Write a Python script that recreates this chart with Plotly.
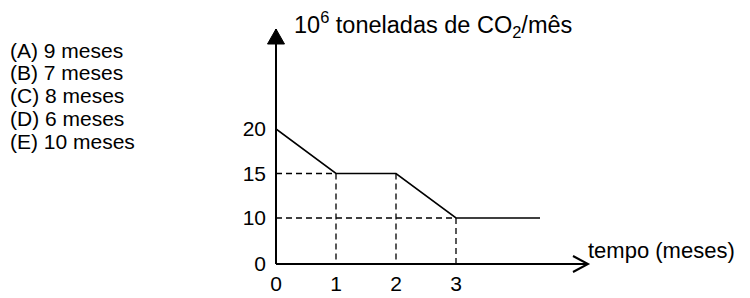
import plotly.graph_objects as go

# ---- data ----
tempo = [0, 1, 2, 3, 4.4]
emissao = [20, 15, 15, 10, 10]
x_ticks = [0, 1, 2, 3]
x_ticktext = ["0", "1", "2", "3"]
y_ticks = [10, 15, 20]
y_ticktext = ["10", "15", "20"]
guide_points_x = [1, 2, 3]
guide_points_y = [15, 15, 10]
opcoes = ["(A) 9 meses", "(B) 7 meses", "(C) 8 meses", "(D) 6 meses", "(E) 10 meses"]
y_title = "10<sup>6</sup> toneladas de CO<sub>2</sub>/mês"
x_title = "tempo (meses)"

# ---- layout geometry ----
W, H = 750, 298
L, R, T, B = 268, 152, 13, 42
PX_PER_X = 60
PX_PER_Y = 8.9
y_floor = 4.83          # schematic broken axis: visual origin
y_top = y_floor + (H - T - B) / PX_PER_Y
x_min, x_max = 0, (W - L - R) / PX_PER_X
x_arrow = 5.2
y_arrow = y_floor + 235 / PX_PER_Y
FONT = "Liberation Sans, Arial, sans-serif"
FS = 21
FS_T = 23.5
FS_X = 22

# paper positions of the arrow tips
xa_p = (x_arrow - x_min) / (x_max - x_min)
ya_p = (y_arrow - y_floor) / (y_top - y_floor)

fig = go.Figure()

dash = dict(color="black", width=1.3, dash="6px,4px")
# dashed guide lines (vertical)
for gx, gy in zip(guide_points_x, guide_points_y):
    fig.add_trace(go.Scatter(x=[gx, gx], y=[gy, y_floor], mode="lines", line=dash,
                             hoverinfo="skip", showlegend=False))
# dashed guide lines (horizontal, to first point at each level)
for gy in sorted(set(guide_points_y)):
    gx = min(x for x, y in zip(guide_points_x, guide_points_y) if y == gy)
    fig.add_trace(go.Scatter(x=[0, gx], y=[gy, gy], mode="lines", line=dash,
                             hoverinfo="skip", showlegend=False))

# main line
fig.add_trace(go.Scatter(x=tempo, y=emissao, mode="lines",
                         line=dict(color="black", width=1.6), showlegend=False))

# axes lines (paper refs -> not clipped)
fig.add_shape(type="line", x0=0, x1=0, y0=0, y1=ya_p, xref="paper", yref="paper",
              line=dict(color="black", width=2))
fig.add_shape(type="line", x0=0, x1=xa_p, y0=0, y1=0, xref="paper", yref="paper",
              line=dict(color="black", width=2))
# arrowheads (pixel-sized, anchored at axis ends)
fig.add_shape(type="path", xref="paper", yref="paper", xsizemode="pixel", ysizemode="pixel",
              xanchor=0, yanchor=ya_p, path="M -8.5,-15 L 8.5,-15 L 0,0 Z",
              fillcolor="black", line=dict(color="black", width=1))
fig.add_shape(type="path", xref="paper", yref="paper", xsizemode="pixel", ysizemode="pixel",
              xanchor=xa_p, yanchor=0, path="M -15,8 L 0,0 L -15,-8",
              line=dict(color="black", width=2))

# axis titles
fig.add_annotation(x=0, y=1, xref="paper", yref="paper", xanchor="left", yanchor="middle",
                   xshift=16, yshift=-3, text=y_title, showarrow=False,
                   font=dict(family=FONT, size=FS_T, color="black"))
fig.add_annotation(x=xa_p, y=0, xref="paper", yref="paper", xanchor="left",
                   yanchor="middle", xshift=-2, yshift=14, text=x_title, showarrow=False,
                   font=dict(family=FONT, size=FS_X, color="black"))

# answer options (pixel positions converted to paper coords)
pw, ph = W - L - R, H - T - B
for i, t in enumerate(opcoes):
    px, py = 0, 42 + 22.8 * i
    fig.add_annotation(x=(px - L) / pw, y=1 - (py - T) / ph, xref="paper", yref="paper",
                       text=t, showarrow=False, xanchor="left", yanchor="middle",
                       font=dict(family=FONT, size=FS, color="black"))

fig.update_layout(
    width=W, height=H, margin=dict(l=L, r=R, t=T, b=B),
    paper_bgcolor="white", plot_bgcolor="white",
    font=dict(family=FONT, size=FS, color="black"),
    xaxis=dict(range=[x_min, x_max], showgrid=False, zeroline=False, showline=False,
               tickvals=x_ticks, ticktext=x_ticktext, ticks="", ticklabelstandoff=5),
    yaxis=dict(range=[y_floor, y_top], showgrid=False, zeroline=False, showline=False,
               tickvals=[y_floor] + y_ticks, ticktext=["0"] + y_ticktext, ticks="",
               ticklabelstandoff=9),
)

fig.write_html("out.html")
